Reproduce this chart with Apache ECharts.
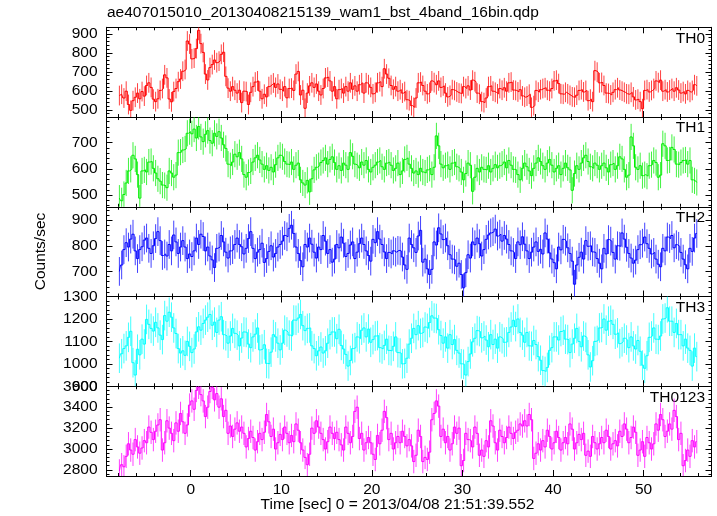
<!DOCTYPE html>
<html><head><meta charset="utf-8">
<script src="https://cdn.jsdelivr.net/npm/echarts@6/dist/echarts.min.js"></script>
<style>html,body{margin:0;padding:0;background:#fff}#c{width:717px;height:516px}</style>
</head><body><div id="c"></div>
<script>
const plotTitle = 'ae407015010_20130408215139_wam1_bst_4band_16bin.qdp';
const xTitle = 'Time [sec] 0 = 2013/04/08 21:51:39.552';
const yTitle = 'Counts/sec';
const bandNames = ['TH0', 'TH1', 'TH2', 'TH3', 'TH0123'];
const tStart = -7.875, binWidth = 0.25;
const xMin = -9.3, xMax = 57.5, xStep = 10;
const yMin = [462, 455, 602, 900, 2742];
const yMax = [934, 798, 952, 1300, 3600];
const yStep = [100, 100, 100, 100, 200];
const errHalf = [52, 50, 56, 66, 112];

const th0 = [
575,582,562,598, 528,497,548,566, 588,558,596,572, 628,642,618,556,
543,558,602,612, 684,668,557,542, 596,612,648,662, 703,712,862,846,
768,772,822,918, 848,802,688,657, 722,738,762,748, 756,792,803,676,
614,598,622,603, 588,603,538,598, 596,528,592,622, 646,652,598,558,
582,568,622,632, 641,618,636,608, 598,622,563,612, 614,602,688,702,
578,603,508,588, 626,642,618,636, 598,578,612,668, 672,652,598,622,
558,606,612,588, 622,598,642,608, 626,598,632,642, 588,642,632,618,
584,592,642,648, 622,716,688,666, 628,608,622,598, 606,588,596,553,
548,522,513,562, 642,646,628,598, 584,592,652,643, 632,652,618,626,
588,568,576,606, 602,594,588,586, 622,612,626,604, 656,648,588,582,
543,538,562,622, 626,598,592,584, 612,603,616,598, 642,646,604,602,
594,606,573,566, 572,582,513,522, 602,593,606,612, 616,603,598,612,
652,656,638,584, 582,592,584,576, 568,566,577,602, 606,594,602,548,
556,543,706,698, 642,644,628,588, 586,578,592,606, 616,604,598,592,
584,582,592,568, 552,556,543,506, 602,606,594,602, 612,652,643,656,
598,606,594,604, 612,598,616,604, 588,596,584,602, 592,602,632,626
];
const th1 = [
488,478,502,546, 592,598,652,638, 578,488,592,596, 588,626,628,602,
584,562,553,538, 536,528,592,584, 568,576,662,664, 672,676,736,742,
734,752,718,762, 722,704,732,746, 708,698,736,724, 742,718,692,678,
618,612,626,656, 646,662,638,578, 568,586,592,626, 642,652,634,618,
598,612,594,606, 588,616,642,652, 646,628,618,616, 626,598,614,622,
558,546,538,556, 512,562,596,606, 612,624,632,642, 618,636,646,624,
598,612,594,622, 614,598,662,648, 618,612,604,626, 614,632,598,588,
606,614,626,632, 608,598,622,626, 614,594,602,622, 578,592,636,642,
618,602,584,592, 578,602,588,584, 596,602,578,606, 726,688,618,604,
612,616,598,622, 626,608,602,588, 558,582,622,614, 514,568,602,588,
606,598,596,612, 588,602,616,604, 612,618,626,604, 632,614,598,596,
578,558,602,622, 608,592,574,602, 622,642,628,612, 598,622,636,614,
588,602,612,578, 602,622,604,596, 518,582,612,598, 622,642,652,628,
608,602,622,614, 598,612,622,604, 588,616,622,598, 612,646,638,598,
568,576,722,688, 606,598,612,574, 578,572,612,616, 632,624,568,576,
696,688,632,634, 682,674,618,616, 624,632,634,618, 632,558,554,548
];
const th2 = [
700,725,785,812, 795,826,845,780, 750,785,796,822, 830,790,770,800,
828,855,820,762, 768,760,805,780, 842,815,770,795, 820,795,750,768,
758,780,830,805, 845,836,780,795, 760,745,715,790, 795,840,815,775,
752,780,785,805, 830,805,796,768, 790,828,855,790, 750,775,785,810,
735,750,778,800, 756,770,795,805, 818,840,835,868, 880,848,795,770,
742,718,805,795, 830,806,775,752, 795,785,840,818, 770,785,736,748,
805,792,834,810, 758,770,803,815, 750,775,808,830, 805,780,762,740,
825,812,855,826, 805,776,750,774, 768,780,775,782, 780,756,725,708,
830,805,792,774, 838,860,736,748, 710,688,708,815, 803,870,846,824,
830,800,765,748, 745,720,732,688, 636,695,765,752, 815,804,830,808,
760,785,825,842, 850,855,865,838, 845,818,840,826, 805,780,774,750,
815,804,835,806, 780,750,775,795, 815,778,786,768, 850,826,772,748,
734,710,795,784, 825,818,792,770, 740,650,725,755, 775,748,820,798,
800,776,774,750, 732,710,790,768, 824,818,774,748, 800,798,850,826,
794,770,752,732, 744,785,804,810, 834,808,790,768, 774,748,728,718,
790,780,834,828, 840,792,804,798, 774,748,726,710, 790,778,830,848
];
const th3 = [
1025,1045,1068,1080, 1118,1145,1005,950, 1065,1040,1110,1088, 1198,1176,1158,1146,
1185,1160,1128,1108, 1215,1190,1230,1208, 1160,1135,1068,1048, 1058,1038,1100,1078,
1050,1066,1142,1165, 1150,1180,1195,1208, 1220,1172,1186,1140, 1195,1210,1130,1125,
1092,1124,1158,1136, 1128,1080,1115,1142, 1140,1088,1072,1120, 1132,1160,1062,1066,
1085,1002,1000,1052, 1130,1120,1092,1062, 1092,1150,1142,1128, 1124,1195,1194,1204,
1220,1170,1148,1158, 1160,1080,1068,1036, 1058,1075,1048,1058, 1092,1130,1142,1142,
1112,1154,1082,1066, 1042,990,1015,1068, 1072,1120,1112,1150, 1160,1120,1155,1096,
1108,1124,1126,1072, 1066,1082,1110,1060, 1058,1078,1120,1050, 1048,1000,1002,1025,
1088,1114,1158,1130, 1170,1136,1140,1164, 1158,1184,1214,1204, 1202,1152,1126,1092,
1120,1070,1130,1086, 1108,1060,1048,1000, 998,950,1010,1044, 1098,1114,1148,1144,
1116,1124,1106,1076, 1130,1086,1110,1070, 1120,1112,1096,1098, 1140,1164,1194,1166,
1200,1140,1128,1096, 1140,1080,1078,1104, 1086,1032,1016,970, 966,984,1060,1072,
1120,1120,1106,1144, 1150,1110,1108,1050, 1088,1114,1158,1100, 1076,1124,1118,1040,
986,1014,1100,1104, 1160,1162,1200,1150, 1190,1194,1176,1132, 1138,1090,1098,1114,
1106,1072,1120,1080, 1066,1104,1056,994, 980,1036,1118,1124, 1160,1110,1108,1124,
1200,1204,1250,1190, 1190,1140,1180,1130, 1130,1080,1110,1070, 1060,990,1070,1032
];
const th0123 = [
2790,2850,2830,2930, 3050,2990,2950,3090, 3020,2960,3010,3080, 3060,3210,3160,3090,
3170,3230,3280,2990, 3060,3270,3200,3150, 3080,3250,3170,3340, 3260,3150,3230,3420,
3460,3380,3560,3590, 3520,3460,3310,3400, 3550,3590,3470,3530, 3400,3480,3310,3370,
3150,3220,3120,3190, 3250,3170,3210,3150, 3020,3100,3170,3110, 2990,3070,3150,3090,
3160,3330,3260,3120, 3190,3000,3060,3140, 3090,3210,3150,3060, 3130,3070,3240,3180,
3060,2990,2920,2850, 2950,3200,3150,3270, 3210,3150,3090,3000, 3070,3210,3150,3100,
3160,3090,3040,2990, 3210,3150,3060,3120, 3360,3400,3100,3150, 2990,3060,3110,3060,
2950,2900,3130,3050, 3180,3360,3300,3090, 3150,3000,3060,3120, 3060,3170,3120,3030,
3090,3030,2880,2940, 3180,3120,2880,2920, 2900,2970,3280,3340, 3460,3410,3120,3190,
3060,3120,2990,3050, 3210,3150,3200,2840, 2890,3150,3090,3080, 3020,3210,3150,2940,
2990,2930,3080,3020, 3270,3220,3060,2990, 3180,3120,3060,3110, 3210,3150,3100,3160,
3180,3240,3220,3270, 3220,3330,3280,2910, 2960,3050,2990,3080, 3020,3180,3120,3000,
3060,3170,3110,2990, 3060,3110,3050,3240, 3190,3000,3060,3140, 3090,3150,2940,2980,
2930,3120,3060,3000, 3050,3110,3060,3180, 3120,3000,3050,3080, 3030,3170,3120,3240,
3190,3060,3110,3210, 3160,2940,2990,3070, 2930,3110,3060,3000, 3050,3240,3180,3330,
3280,3120,3170,3240, 3190,3370,3310,3090, 3150,2840,2890,2990, 2930,3080,3020,3070
];
const bands = [th0, th1, th2, th3, th0123];
const colors = ['#ff0000', '#00ee00', '#0000ff', '#00ffff', '#ff00ff'];

const FONT = "'Liberation Sans', Arial, Helvetica, sans-serif";
const L = 106.5, R = 711.5, TOP = 27.3, BOT = 476;
const H = (BOT - TOP) / 5;
const splitNums = [5, 4, 4, 4, 4];

const grids = [], xAxes = [], yAxes = [], series = [];
const axisLineStyle = { color: '#000', width: 1 };
for (let i = 0; i < 5; i++) {
  grids.push({ left: L, width: R - L, top: TOP + i * H, height: H, show: false });
  const isLast = i === 4;
  const xBase = {
    type: 'value', gridIndex: i, min: xMin, max: xMax, splitNumber: 6,
    axisLine: { show: true, onZero: false, lineStyle: axisLineStyle },
    axisTick: { show: true, inside: true, length: 6, lineStyle: { color: '#000', width: 1 } },
    minorTick: { show: true, splitNumber: 5, length: 3, lineStyle: { color: '#000', width: 1 } },
    splitLine: { show: false }, minorSplitLine: { show: false }
  };
  xAxes.push(Object.assign({}, xBase, {
    position: 'bottom',
    axisLabel: {
      show: isLast, color: '#000', fontFamily: FONT, fontSize: 15.5, margin: 6,
      formatter: v => (Math.abs(v / xStep - Math.round(v / xStep)) < 1e-6 ? String(Math.round(v)) : '')
    }
  }));
  xAxes.push(Object.assign({}, xBase, { position: 'top', axisLabel: { show: false } }));
  const yBase = {
    type: 'value', gridIndex: i, min: yMin[i], max: yMax[i], splitNumber: splitNums[i],
    axisLine: { show: true, onZero: false, lineStyle: axisLineStyle },
    axisTick: { show: true, inside: true, length: 6, lineStyle: { color: '#000', width: 1 } },
    minorTick: { show: true, splitNumber: 5, length: 3, lineStyle: { color: '#000', width: 1 } },
    splitLine: { show: false }, minorSplitLine: { show: false }
  };
  const st = yStep[i];
  yAxes.push(Object.assign({}, yBase, {
    position: 'left',
    axisLabel: {
      show: true, color: '#000', fontFamily: FONT, fontSize: 15.5, margin: 9,
      formatter: v => (Math.abs(v / st - Math.round(v / st)) < 1e-6 ? String(Math.round(v)) : '')
    }
  }));
  yAxes.push(Object.assign({}, yBase, { position: 'right', axisLabel: { show: false } }));

  const vals = bands[i];
  const pts = vals.map((v, k) => [tStart + k * binWidth, v]);
  const err = errHalf[i];
  const col = colors[i];
  series.push({
    type: 'custom', xAxisIndex: 2 * i, yAxisIndex: 2 * i, silent: true,
    data: vals.map((v, k) => [tStart + k * binWidth, v, err]),
    renderItem: (params, api) => {
      const x = api.value(0), y = api.value(1), e = api.value(2);
      const p1 = api.coord([x, y - e]), p2 = api.coord([x, y + e]);
      const cs = params.coordSys;
      const y1 = Math.min(Math.max(p1[1], cs.y), cs.y + cs.height);
      const y2 = Math.min(Math.max(p2[1], cs.y), cs.y + cs.height);
      return { type: 'line', shape: { x1: p1[0], y1: y1, x2: p2[0], y2: y2 },
        style: { stroke: col, lineWidth: 1, opacity: 0.75 } };
    }
  });
  series.push({
    type: 'line', xAxisIndex: 2 * i, yAxisIndex: 2 * i, silent: true,
    data: pts, step: 'middle', showSymbol: false, symbol: 'none',
    lineStyle: { color: col, width: 1 }, clip: true
  });
}

const graphics = [
  { type: 'text', left: 107, top: 5, style: { text: plotTitle, font: `15.5px ${FONT}`, fill: '#000' } },
  { type: 'text', x: 397.5, y: 505, style: { text: xTitle, font: `15.5px ${FONT}`, fill: '#000', align: 'center', verticalAlign: 'middle' } },
  { type: 'text', x: 41, y: 251.5, rotation: Math.PI / 2, style: { text: yTitle, font: `15.5px ${FONT}`, fill: '#000', align: 'center', verticalAlign: 'middle' } }
];
for (let i = 0; i < 5; i++) {
  graphics.push({ type: 'text', x: 705, y: TOP + i * H + 11, style: { text: bandNames[i], font: `15.5px ${FONT}`, fill: '#000', align: 'right', verticalAlign: 'middle' } });
}

const chart = echarts.init(document.getElementById('c'), null, { renderer: 'canvas' });
chart.setOption({
  animation: false, backgroundColor: '#fff',
  grid: grids, xAxis: xAxes, yAxis: yAxes, series: series, graphic: graphics
});
</script></body></html>
